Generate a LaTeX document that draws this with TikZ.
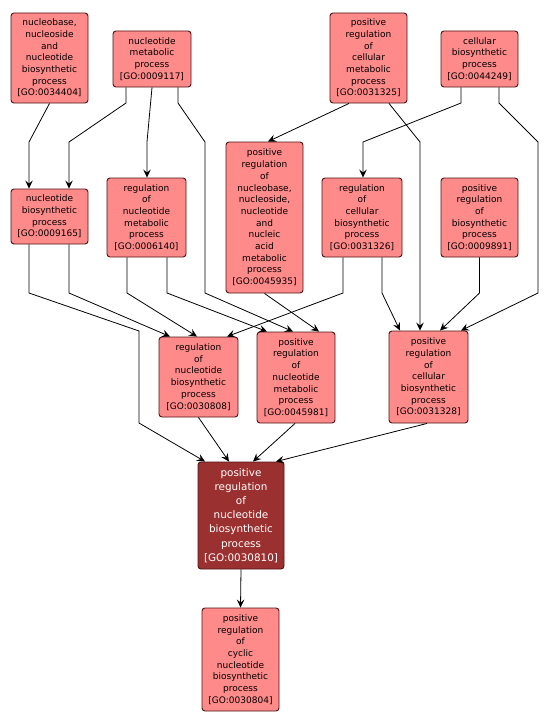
\documentclass[tikz,border=0pt]{standalone}
\usepackage{fontspec}
\setmainfont{DejaVu Sans}
\usetikzlibrary{arrows.meta}
\definecolor{termfill}{RGB}{255,138,138}
\definecolor{termdraw}{RGB}{80,20,20}
\definecolor{focusfill}{RGB}{155,48,48}

\begin{document}
\begin{tikzpicture}[
    x=1pt, y=-1pt,
    term/.style={rectangle, rounded corners=3pt, fill=termfill, draw=termdraw, line width=0.9pt, align=center, inner sep=0pt, font=\fontsize{9}{11.7}\selectfont},
    focus/.style={term, fill=focusfill, text=white, font=\fontsize{10.4}{14.2}\selectfont},
    isa/.style={-{Stealth[length=8pt, width=7.5pt, inset=3pt]}, line width=0.8pt}
  ]
    \useasboundingbox[fill=white] (0,0) rectangle (549,725);

    % Top row
    \node[term, minimum width=77, minimum height=90] at (49.5,58) (n34404) {nucleobase,\\nucleoside\\and\\nucleotide\\biosynthetic\\process\\{[GO:0034404]}};
    \node[term, minimum width=78, minimum height=56] at (152,59) (n9117) {nucleotide\\metabolic\\process\\{[GO:0009117]}};
    \node[term, minimum width=77, minimum height=90] at (368.5,58) (n31325) {positive\\regulation\\of\\cellular\\metabolic\\process\\{[GO:0031325]}};
    \node[term, minimum width=77, minimum height=56] at (479.5,59) (n44249) {cellular\\biosynthetic\\process\\{[GO:0044249]}};

    % Second row
    \node[term, minimum width=77, minimum height=55] at (49.5,216.5) (n9165) {nucleotide\\biosynthetic\\process\\{[GO:0009165]}};
    \node[term, minimum width=79, minimum height=79] at (146.5,217.5) (n6140) {regulation\\of\\nucleotide\\metabolic\\process\\{[GO:0006140]}};
    \node[term, minimum width=77, minimum height=151] at (264.5,217.5) (n45935) {positive\\regulation\\of\\nucleobase,\\nucleoside,\\nucleotide\\and\\nucleic\\acid\\metabolic\\process\\{[GO:0045935]}};
    \node[term, minimum width=80, minimum height=79] at (362,217.5) (n31326) {regulation\\of\\cellular\\biosynthetic\\process\\{[GO:0031326]}};
    \node[term, minimum width=77, minimum height=79] at (479.5,217.5) (n9891) {positive\\regulation\\of\\biosynthetic\\process\\{[GO:0009891]}};

    % Third row
    \node[term, minimum width=79, minimum height=80] at (198.5,377) (n30808) {regulation\\of\\nucleotide\\biosynthetic\\process\\{[GO:0030808]}};
    \node[term, minimum width=78, minimum height=91] at (296,377.5) (n45981) {positive\\regulation\\of\\nucleotide\\metabolic\\process\\{[GO:0045981]}};
    \node[term, minimum width=79, minimum height=92] at (428.5,377) (n31328) {positive\\regulation\\of\\cellular\\biosynthetic\\process\\{[GO:0031328]}};

    % Focus term and child
    \node[focus, minimum width=86, minimum height=107] at (241,515.5) (n30810) {positive\\regulation\\of\\nucleotide\\biosynthetic\\process\\{[GO:0030810]}};
    \node[term, minimum width=77, minimum height=103] at (240.5,659.5) (n30804) {positive\\regulation\\of\\cyclic\\nucleotide\\biosynthetic\\process\\{[GO:0030804]}};

    % Edges from the top row
    \draw[isa] (n34404.south) -- (29,142) -- (n9165.north -| 29,0);
    \draw[isa] (n9117.south -| 126,0) -- (126,103) -- (69,142) -- (n9165.north -| 69,0);
    \draw[isa] (n9117.south) -- (147,142) -- (n6140.north -| 147,0);
    \draw[isa] (n9117.south -| 178,0) -- (178,103) -- (205,142) -- (205,293) -- (n45981.north -| 293,0);
    \draw[isa] (n31325.south -| 349,0) -- (n45935.north -| 268,0);
    \draw[isa] (n31325.south -| 389,0) -- (420,142) -- (n31328.north -| 420,0);
    \draw[isa] (n44249.south -| 461,0) -- (461,103) -- (363,142) -- (n31326.north -| 363,0);
    \draw[isa] (n44249.south -| 499,0) -- (499,103) -- (538,142) -- (538,293) -- (n31328.north -| 461,0);

    % Edges from the second row
    \draw[isa] (n9165.south -| 29,0) -- (29,293) -- (139,331) -- (139,423) -- (n30810.north -| 205,0);
    \draw[isa] (n9165.south -| 69,0) -- (69,293) -- (n30808.north -| 170,0);
    \draw[isa] (n6140.south -| 127,0) -- (127,293) -- (n30808.north -| 197,0);
    \draw[isa] (n6140.south -| 167,0) -- (167,293) -- (n45981.north -| 267,0);
    \draw[isa] (n45935.south) -- (n45981.north -| 319,0);
    \draw[isa] (n31326.south -| 343,0) -- (343,293) -- (n30808.north -| 227,0);
    \draw[isa] (n31326.south -| 382,0) -- (382,293) -- (n31328.north -| 400,0);
    \draw[isa] (n9891.south) -- (479.5,293) -- (n31328.north -| 440,0);

    % Edges into the focus term
    \draw[isa] (n30808.south) -- (n30810.north -| 229,0);
    \draw[isa] (n45981.south -| 295,0) -- (n30810.north -| 253,0);
    \draw[isa] (n31328.south -| 427,0) -- (n30810.north -| 276,0);
    \draw[isa] (n30810.south) -- (n30804.north);
  \end{tikzpicture}
\end{document}
